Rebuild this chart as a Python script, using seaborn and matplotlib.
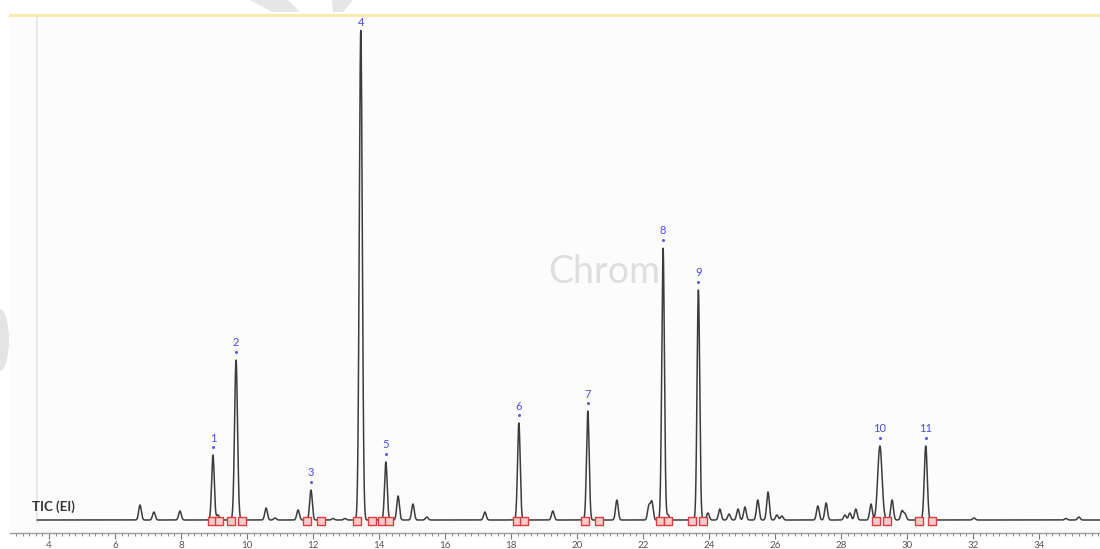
import numpy as np
import pandas as pd
import matplotlib
matplotlib.use("Agg")
import matplotlib.pyplot as plt
from matplotlib.patches import Polygon, Ellipse
import seaborn as sns

# Identified peaks: retention time (min), apex abundance, peak width (sigma, min)
peak_ids = ["1", "2", "3", "4", "5", "6", "7", "8", "9", "10", "11"]
peak_rt = [8.97, 9.67, 11.94, 13.45, 14.21, 18.24, 20.33, 22.61, 23.68, 29.18, 30.57]
peak_abund = [65, 160, 30, 490, 58, 97, 109, 272, 230, 74, 74]
peak_sigma = [0.040, 0.045, 0.040, 0.045, 0.040, 0.040, 0.040, 0.040, 0.040, 0.065, 0.045]

# Integration start / end marks for each identified peak (min)
int_start = [8.94, 9.52, 11.82, 13.33, 14.09, 18.18, 20.24, 22.52, 23.48, 29.06, 30.36]
int_end = [9.15, 9.85, 12.24, 13.79, 14.30, 18.39, 20.67, 22.76, 23.82, 29.39, 30.76]

# Unlabelled minor peaks
minor_rt = [6.76, 7.18, 7.97, 9.12, 10.58, 10.85, 11.55, 12.61, 12.97, 14.58,
            15.03, 15.45, 17.21, 19.27, 21.21, 22.18, 22.27, 22.76, 23.97, 24.33,
            24.61, 24.88, 25.09, 25.48, 25.79, 26.06, 26.21, 27.30, 27.55, 28.12,
            28.27, 28.45, 28.91, 29.55, 29.85, 29.94, 32.03, 34.82, 35.21]
minor_abund = [15, 8, 9, 5, 12, 2, 10, 1.5, 1.5, 24,
               16, 3, 8, 9, 20, 14, 18, 5, 7, 11,
               6, 11, 13, 20, 28, 5, 4, 14, 17, 5,
               7, 11, 16, 20, 9, 6, 2, 1.5, 3]
minor_sigma = 0.04

run_start, run_end = 3.64, 35.85
time = np.arange(run_start, run_end, 0.004)
signal = np.zeros_like(time)
for rt, h, s in zip(peak_rt, peak_abund, peak_sigma):
    signal += h * np.exp(-0.5 * ((time - rt) / s) ** 2)
for rt, h in zip(minor_rt, minor_abund):
    signal += h * np.exp(-0.5 * ((time - rt) / minor_sigma) ** 2)
trace = pd.DataFrame({"time": time, "abundance": signal})

marks = pd.DataFrame({"time": int_start + int_end,
                      "abundance": [-0.5] * (len(int_start) + len(int_end))})

sns.set_theme(style="white")
plt.rcParams["font.family"] = ["Lato", "DejaVu Sans"]

W, H = 1100, 549
fig = plt.figure(figsize=(11, 5.49), dpi=100)
ax = fig.add_axes([10 / W, 1 - 533 / H, 1090 / W, 518 / H])
ax.set_facecolor("#fcfcfc")

sns.lineplot(data=trace, x="time", y="abundance", ax=ax, color="#3c3c3c",
             linewidth=1.1, estimator=None, sort=False, zorder=3)
sns.scatterplot(data=marks, x="time", y="abundance", ax=ax, marker="s", s=30,
                facecolor="#f7cccc", edgecolor="#e23b3b", linewidth=1.0, zorder=4)

# Peak numbers with a small tick just above each apex (kept inside the frame)
label_ceiling = 497
for pid, rt, h in zip(peak_ids, peak_rt, peak_abund):
    label_y = min(h + 17, label_ceiling)
    if h + 8 < label_y - 4:
        ax.plot(rt, h + 8, marker="o", ms=2.2, color="#5a5af0", mec="none", zorder=5)
    ax.text(rt, label_y, pid, ha="center", va="center", fontsize=8,
            color="#4a4ae8", zorder=5)

ax.text(3.50, 13, "TIC (EI)", fontsize=9.5, fontweight="bold",
        color="#333333", ha="left", va="center")
ax.text(20.82, 248, "Chrom", fontsize=27, color="#dedede", ha="center",
        va="center", zorder=1)

ax.axvline(run_start, ymin=0.02, ymax=1, color="#e4e4e4", linewidth=1.2, zorder=1)

ax.set_xlim(2.82, 35.85)
ax.set_ylim(-13, 505)
ax.set_xlabel("")
ax.set_ylabel("")
ax.set_yticks([])
ax.set_xticks(np.arange(4, 35, 2))
ax.set_xticks(np.arange(3.0, 35.9, 0.2), minor=True)
ax.tick_params(axis="x", which="major", length=4, width=0.8, color="#777777",
               labelsize=7, labelcolor="#555555", pad=2, bottom=True)
ax.tick_params(axis="x", which="minor", length=2.5, width=0.7, color="#8a8a8a",
               bottom=True)

for side in ("left", "right"):
    ax.spines[side].set_visible(False)
ax.spines["top"].set_color("#fbeab0")
ax.spines["top"].set_linewidth(2.2)
ax.spines["bottom"].set_color("#9a9a9a")
ax.spines["bottom"].set_linewidth(1.0)

# Faint background marks of the report template
def fig_xy(pts):
    return [(x / W, 1 - y / H) for x, y in pts]

fig.add_artist(Polygon(fig_xy([(250, 0), (288, 0), (300, 12), (272, 12)]),
                       closed=True, facecolor="#e6e6e6", edgecolor="none",
                       transform=fig.transFigure, zorder=0))
fig.add_artist(Polygon(fig_xy([(332, 0), (353, 0), (343, 12), (333, 12)]),
                       closed=True, facecolor="#e6e6e6", edgecolor="none",
                       transform=fig.transFigure, zorder=0))
fig.add_artist(Ellipse((0, 1 - 340 / H), 18 / W, 62 / H, facecolor="#e4e4e4",
                       edgecolor="none", transform=fig.transFigure, zorder=0))

fig.savefig("out.png", dpi=100, facecolor="white")
